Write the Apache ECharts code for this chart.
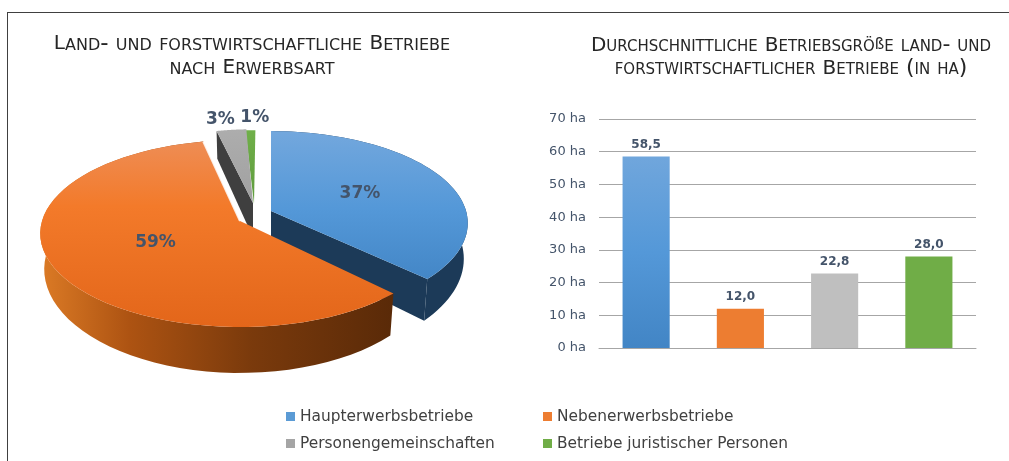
<!DOCTYPE html>
<html>
<head>
<meta charset="utf-8">
<title>Land- und forstwirtschaftliche Betriebe</title>
<script src="https://cdn.jsdelivr.net/npm/echarts@6/dist/echarts.min.js"></script>
<style>
html, body { margin: 0; padding: 0; background: #fff; }
#main { width: 1009px; height: 461px; }
</style>
</head>
<body>
<div id="main"></div>
<script>
var categories = ['Haupterwerbsbetriebe', 'Nebenerwerbsbetriebe', 'Personengemeinschaften', 'Betriebe juristischer Personen'];
var pieShares = [37, 59, 3, 1];
var avgSizes = [58.5, 12.0, 22.8, 28.0];
var sizeTicks = { min: 0, max: 70, interval: 10 };

var FONT = '"DejaVu Sans", Verdana, sans-serif';
var LABEL_COLOR = '#44546A';
var legendColors = ['#5B9BD5', '#ED7D31', '#A5A5A5', '#70AD47'];

function vgrad(y0, y1, stops) {
    return new echarts.graphic.LinearGradient(0, y0, 0, y1, stops, true);
}
function hgrad(x0, x1, stops) {
    return new echarts.graphic.LinearGradient(x0, 0, x1, 0, stops, true);
}

// pie look: apex, rotation in degrees, radius factor, label placement
var sliceLook = [
    { apex: [271, 211], rotate: 0, scale: 0.985, z: 3, labelR: 0.51, labelDx: 0,
      top: vgrad(133, 285, [{offset: 0, color: '#72A7DD'}, {offset: 0.5, color: '#5498D8'}, {offset: 1, color: '#4285C5'}]),
      wall: '#1C3A58', cut: [1], outerWall: true },
    { apex: [240, 221], rotate: 2.3, scale: 1, z: 4, labelR: 0.47, labelDx: 0,
      top: vgrad(141, 327, [{offset: 0, color: '#EE8D55'}, {offset: 0.35, color: '#F37A2A'}, {offset: 1, color: '#E3661A'}]),
      wall: hgrad(42, 392, [{offset: 0, color: '#DB7A25'}, {offset: 0.25, color: '#AD5312'}, {offset: 0.6, color: '#7A3A0C'}, {offset: 1, color: '#5A2A08'}]),
      cut: [], outerWall: true, edge: 'rgba(255,255,255,0.85)' },
    { apex: [253, 203], rotate: 1.2, scale: 0.9, z: 2, labelR: 1.16, labelDx: -8,
      top: vgrad(129, 205, [{offset: 0, color: '#ADADAD'}, {offset: 1, color: '#A0A0A0'}]),
      wall: '#3F3F3F', cut: [0], outerWall: false },
    { apex: [254, 204], rotate: 0.5, scale: 0.9, z: 1, labelR: 1.2, labelDx: 5,
      top: vgrad(129, 205, [{offset: 0, color: '#70B04A'}, {offset: 1, color: '#5E9A3C'}]),
      wall: '#2E4A20', cut: [], outerWall: false }
];

// tilted disc seen in perspective
var RX = 198, RY = 91.8, K = 0.1337, DEPTH = 34.5, FLOOR_SHRINK = 0.98;
function project(apex, scale, deg) {
    var t = deg * Math.PI / 180;
    var u = Math.sin(t) * scale, v = -Math.cos(t) * scale;
    var w = 1 / (1 - K * v);
    return { x: apex[0] + RX * u * w, y: apex[1] + RY * v * w, drop: DEPTH * w * w };
}

function sliceRenderer(index) {
    return function (params, api) {
        var look = sliceLook[index];
        var total = pieShares.reduce(function (a, b) { return a + b; }, 0);
        var before = pieShares.slice(0, index).reduce(function (a, b) { return a + b; }, 0);
        var value = api.value(0);
        var a0 = before / total * 360 + look.rotate;
        var a1 = (before + value) / total * 360 + look.rotate;
        var apex = look.apex;
        var children = [];

        var arc = [];
        for (var d = 0; d <= 60; d++) {
            arc.push(project(apex, look.scale, a0 + (a1 - a0) * d / 60));
        }
        function floorX(p) { return apex[0] + (p.x - apex[0]) * FLOOR_SHRINK; }

        // straight cut faces
        look.cut.forEach(function (side) {
            var p = side ? arc[arc.length - 1] : arc[0];
            children.push({
                type: 'polygon',
                shape: { points: [[apex[0], apex[1]], [p.x, p.y], [floorX(p), p.y + p.drop], [apex[0], apex[1] + DEPTH]] },
                style: { fill: look.wall }
            });
        });

        // outer wall
        if (look.outerWall) {
            var wall = arc.map(function (p) { return [p.x, p.y]; });
            arc.slice().reverse().forEach(function (p) { wall.push([floorX(p), p.y + p.drop]); });
            children.push({ type: 'polygon', shape: { points: wall }, style: { fill: look.wall } });
        }

        // top face
        var topPts = [[apex[0], apex[1]]].concat(arc.map(function (p) { return [p.x, p.y]; }));
        children.push({ type: 'polygon', shape: { points: topPts }, style: { fill: look.top } });

        // light bevel on the cut facing the small slices
        if (look.edge) {
            var last = arc[arc.length - 1];
            children.push({
                type: 'polyline',
                shape: { points: [[last.x, last.y], [apex[0], apex[1]]] },
                style: { stroke: look.edge, lineWidth: 2, fill: null }
            });
        }

        // percentage label
        var lp = project(apex, look.labelR * look.scale, (a0 + a1) / 2);
        children.push({
            type: 'text',
            z2: 10,
            style: {
                text: value + '%', x: lp.x + look.labelDx, y: lp.y,
                align: 'center', verticalAlign: 'middle',
                fill: LABEL_COLOR, font: 'bold 17px ' + FONT
            }
        });
        return { type: 'group', children: children };
    };
}

var pieSeries = categories.map(function (name, i) {
    return {
        type: 'custom',
        name: name,
        coordinateSystem: 'none',
        z: sliceLook[i].z,
        silent: true,
        itemStyle: { color: legendColors[i] },
        data: [pieShares[i]],
        renderItem: sliceRenderer(i)
    };
});

var barFills = [
    new echarts.graphic.LinearGradient(0, 0, 0, 1, [{offset: 0, color: '#70A6DC'}, {offset: 0.5, color: '#5498D8'}, {offset: 1, color: '#4285C5'}]),
    '#ED7D31', '#BFBFBF', '#70AD47'
];

// small caps: capitals a bit smaller than the synthesized ones would be
function titleStyle(capSize, smallSize, sharpSize, lineHeight) {
    return {
        fontFamily: FONT,
        fontWeight: 'normal',
        lineHeight: lineHeight,
        color: '#262626',
        rich: {
            c: { fontFamily: FONT, fontSize: capSize, color: '#262626', lineHeight: lineHeight },
            s: { fontFamily: FONT, fontSize: smallSize, fontStyle: 'small-caps', color: '#262626', lineHeight: lineHeight },
            n: { fontFamily: FONT, fontSize: sharpSize, color: '#262626', lineHeight: lineHeight }
        }
    };
}

var myChart = echarts.init(document.getElementById('main'), null, { renderer: 'canvas' });
var option = {
    animation: false,
    backgroundColor: '#fff',
    title: [
        { text: '{c|L}{s|and- und forstwirtschaftliche }{c|B}{s|etriebe}\n{s|nach }{c|E}{s|rwerbsart}', left: 247, top: 27, textAlign: 'center', textStyle: titleStyle(20, 23, 16, 24) },
        { text: '{c|D}{s|urchschnittliche }{c|B}{s|etriebsgrö}{n|ß}{s|e land- und}\n{s|forstwirtschaftlicher }{c|B}{s|etriebe (in ha)}', left: 786, top: 29, textAlign: 'center', textStyle: titleStyle(20, 22, 15, 23) }
    ],
    legend: [
        { orient: 'vertical', left: 281, top: 404, itemWidth: 9, itemHeight: 9, itemGap: 12, icon: 'rect',
          data: [categories[0], categories[2]], selectedMode: false,
          textStyle: { fontFamily: FONT, fontSize: 15.4, color: '#404040' } },
        { orient: 'vertical', left: 538, top: 404, itemWidth: 9, itemHeight: 9, itemGap: 12, icon: 'rect',
          data: [categories[1], categories[3]], selectedMode: false,
          textStyle: { fontFamily: FONT, fontSize: 15.4, color: '#404040' } }
    ],
    grid: { left: 599, right: 33, top: 119, height: 229, containLabel: false },
    xAxis: {
        type: 'category',
        data: categories,
        axisLine: { lineStyle: { color: '#A6A6A6' } },
        axisTick: { show: false },
        axisLabel: { show: false }
    },
    yAxis: {
        type: 'value',
        min: sizeTicks.min,
        max: sizeTicks.max,
        interval: sizeTicks.interval,
        axisLine: { show: false },
        axisTick: { show: false },
        splitLine: { lineStyle: { color: '#A6A6A6' } },
        axisLabel: { formatter: '{value} ha', fontFamily: FONT, fontSize: 13, color: LABEL_COLOR, margin: 13 }
    },
    graphic: [
        { type: 'line', silent: true, shape: { x1: 7.5, y1: 12, x2: 7.5, y2: 461 }, style: { stroke: '#404040', lineWidth: 1 } },
        { type: 'line', silent: true, shape: { x1: 7, y1: 12.5, x2: 1009, y2: 12.5 }, style: { stroke: '#404040', lineWidth: 1 } }
    ],
    series: pieSeries.concat([{
        type: 'bar',
        name: 'Durchschnittliche Betriebsgröße',
        barWidth: '50%',
        data: avgSizes.map(function (v, i) {
            return { value: v, itemStyle: { color: barFills[i] } };
        }),
        label: {
            show: true,
            position: 'top',
            distance: 6,
            fontFamily: FONT,
            fontSize: 12,
            fontWeight: 'bold',
            color: LABEL_COLOR,
            formatter: function (p) { return p.value.toFixed(1).replace('.', ','); }
        }
    }])
};
myChart.setOption(option);
</script>
</body>
</html>
